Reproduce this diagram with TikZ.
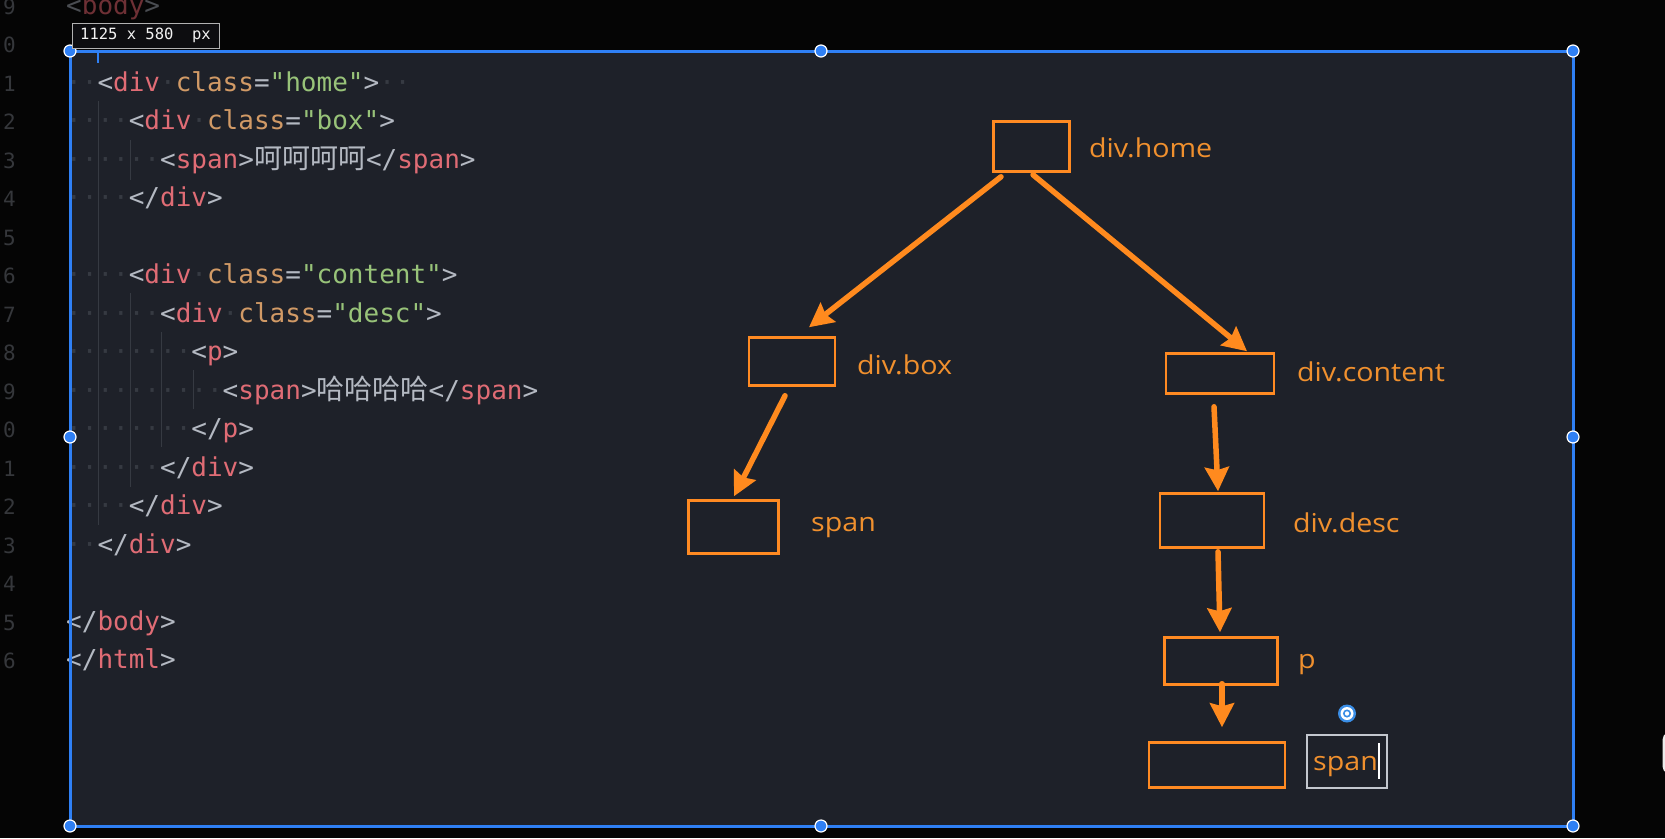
\documentclass[tikz,border=0pt]{standalone}
\usepackage{fontspec}
\setmonofont{DejaVu Sans Mono}
\newfontfamily\cjk{Noto Sans CJK SC}
\newfontfamily\lblfont[FakeStretch=1.1]{Open Sans}
\usetikzlibrary{arrows.meta}

\definecolor{bgblack}{HTML}{050505}
\definecolor{panel}{HTML}{1E2129}
\definecolor{frameblue}{HTML}{2F80F5}
\definecolor{codegray}{HTML}{B4B9C2}
\definecolor{codered}{HTML}{E06C75}
\definecolor{codeorange}{HTML}{D19A66}
\definecolor{codegreen}{HTML}{98C379}
\definecolor{wsgray}{HTML}{363A42}
\definecolor{lnumgray}{HTML}{35373B}
\definecolor{dimgray}{HTML}{4A4D52}
\definecolor{dimred}{HTML}{6E3035}
\definecolor{boxorange}{HTML}{FF8A22}
\definecolor{arrorange}{HTML}{FF8A1E}
\definecolor{lblorange}{HTML}{F0902E}
\definecolor{iconblue}{HTML}{3A8EE6}

\newcommand{\cpun}[1]{\textcolor{codegray}{#1}}
\newcommand{\ctag}[1]{\textcolor{codered}{#1}}
\newcommand{\cattr}[1]{\textcolor{codeorange}{#1}}
\newcommand{\cstr}[1]{\textcolor{codegreen}{#1}}
\newcommand{\cws}[1]{\textcolor{wsgray}{#1}}
\newcommand{\chz}[1]{{\cjk\fontsize{28}{30}\selectfont\textcolor{codegray}{#1}}}

\begin{document}
\begin{tikzpicture}[x=1pt, y=-1pt,
	code/.style={font=\ttfamily\fontsize{26}{30}\selectfont, anchor=base west, inner sep=0pt},
	lnum/.style={font=\ttfamily\fontsize{21}{24}\selectfont, text=lnumgray, anchor=base east, inner sep=0pt},
	tbox/.style={draw=boxorange, line width=2.5pt, inner sep=0pt},
	lbl/.style={font=\lblfont\fontsize{26}{30}\selectfont, text=lblorange, anchor=base west, inner sep=0pt},
	arr/.style={draw=arrorange, line width=5.5pt, line cap=round, -{Stealth[length=24pt,width=24pt,inset=3pt]}},
	guide/.style={draw=wsgray, line width=1pt},
	handle/.style={fill=frameblue, draw=white, line width=1.2pt}]
	\useasboundingbox (0,0) rectangle (1665,838);
	\fill[bgblack] (0,0) rectangle (1665,838);
	\fill[panel] (70,51) rectangle (1573,826);
	% line numbers
	\foreach \n [count=\i from 0] in {9,0,1,2,3,4,5,6,7,8,9,0,1,2,3,4,5,6}
		\node[lnum] (ln\i) at (16,14+\i*38.5) {\n};
	% code
	\node[code] (l9) at (66,14) {\textcolor{dimgray}{<}\textcolor{dimred}{body}\textcolor{dimgray}{>}};
	\draw[guide] (98.5,101) -- (98.5,525);
	\draw[guide] (130,140) -- (130,180);
	\draw[guide] (130,293) -- (130,487);
	\draw[guide] (161.5,332) -- (161.5,447);
	\draw[guide] (193,370) -- (193,409);
	\node[code] (l11) at (66,91) {\cws{··}\cpun{<}\ctag{div}\cws{·}\cattr{class}\cpun{=}\cstr{"home"}\cpun{>}\cws{··}};
	\node[code] (l12) at (66,129.5) {\cws{····}\cpun{<}\ctag{div}\cws{·}\cattr{class}\cpun{=}\cstr{"box"}\cpun{>}};
	\node[code] (l13) at (66,168) {\cws{······}\cpun{<}\ctag{span}\cpun{>}\chz{呵呵呵呵}\cpun{</}\ctag{span}\cpun{>}};
	\node[code] (l14) at (66,206.5) {\cws{····}\cpun{</}\ctag{div}\cpun{>}};
	\node[code] (l16) at (66,283.5) {\cws{····}\cpun{<}\ctag{div}\cws{·}\cattr{class}\cpun{=}\cstr{"content"}\cpun{>}};
	\node[code] (l17) at (66,322) {\cws{······}\cpun{<}\ctag{div}\cws{·}\cattr{class}\cpun{=}\cstr{"desc"}\cpun{>}};
	\node[code] (l18) at (66,360.5) {\cws{········}\cpun{<}\ctag{p}\cpun{>}};
	\node[code] (l19) at (66,399) {\cws{··········}\cpun{<}\ctag{span}\cpun{>}\chz{哈哈哈哈}\cpun{</}\ctag{span}\cpun{>}};
	\node[code] (l20) at (66,437.5) {\cws{········}\cpun{</}\ctag{p}\cpun{>}};
	\node[code] (l21) at (66,476) {\cws{······}\cpun{</}\ctag{div}\cpun{>}};
	\node[code] (l22) at (66,514.5) {\cws{····}\cpun{</}\ctag{div}\cpun{>}};
	\node[code] (l23) at (66,553) {\cws{··}\cpun{</}\ctag{div}\cpun{>}};
	\node[code] (l25) at (66,630) {\cpun{</}\ctag{body}\cpun{>}};
	\node[code] (l26) at (66,668.5) {\cpun{</}\ctag{html}\cpun{>}};
	% tree
	\node[tbox, minimum width=76pt, minimum height=50pt] (home) at (1031.5,146.5) {};
	\node[tbox, minimum width=86pt, minimum height=48pt] (box) at (792,361.5) {};
	\node[tbox, minimum width=108pt, minimum height=40pt] (content) at (1220,373.5) {};
	\node[tbox, minimum width=90pt, minimum height=53pt] (spanA) at (733.5,527) {};
	\node[tbox, minimum width=104pt, minimum height=54pt] (desc) at (1212,520.5) {};
	\node[tbox, minimum width=113pt, minimum height=47pt] (p) at (1221,661) {};
	\node[tbox, minimum width=136pt, minimum height=45pt] (spanB) at (1217,765) {};
	\node[lbl] (homelbl) at (1089,157) {div.home};
	\node[lbl] (boxlbl) at (857,374) {div.box};
	\node[lbl] (spanAlbl) at (811,531.5) {span};
	\node[lbl] (contentlbl) at (1297,381) {div.content};
	\node[lbl] (desclbl) at (1293,532) {div.desc};
	\node[lbl] (plbl) at (1298,668) {p};
	\node[draw=codegray!80, line width=1.5pt, minimum width=80pt, minimum height=53pt, inner sep=0pt] (spanBsel) at (1347,761.5) {};
	\node[lbl] (spanBlbl) at (1313,770) {span};
	\draw[white, line width=1.5pt] (1379,743) -- (1379,779);
	\draw[arr] ([xshift=-30.5pt,yshift=-4pt]home.south) -- ([xshift=17pt,yshift=9pt]box.north);
	\draw[arr] ([xshift=1.5pt,yshift=-2pt]home.south) -- ([xshift=27pt,yshift=1pt]content.north);
	\draw[arr] ([xshift=-7pt,yshift=-9pt]box.south) -- ([xshift=0.5pt,yshift=3pt]spanA.north);
	\draw[arr] ([xshift=-6pt,yshift=-12pt]content.south) -- ([xshift=6pt,yshift=1pt]desc.north);
	\draw[arr] ([xshift=6pt,yshift=-3pt]desc.south) -- ([xshift=-1pt,yshift=4pt]p.north);
	\draw[arr] ([xshift=1pt,yshift=2pt]p.south) -- ([xshift=5pt,yshift=14pt]spanB.north);
	% spiral icon
	\fill[iconblue] (1347,713.5) circle (9pt);
	\fill[white] (1347,713.5) circle (6.5pt);
	\draw[iconblue, line width=1.6pt] (1347,713.5) circle (3.2pt);
	% selection frame
	\draw[frameblue, line width=3pt] (70,51) rectangle (1573,826);
	\draw[frameblue, line width=2pt] (97.5,53) -- (97.5,63);
	\foreach \hx/\hy in {70/51,821/51,1573/51,70/437,1573/437,70/826,821/826,1573/826}
		\filldraw[handle] (\hx,\hy) circle (6pt);
	\node[fill=bgblack!70!panel, draw=gray!60, line width=1pt, minimum width=147pt, minimum height=25pt, inner sep=0pt, text=white!90!gray, font=\ttfamily\fontsize{15.5}{18}\selectfont] (dims) at (145.5,35.5) {1125 x 580\ \ px};
	\draw[white!85!gray, line width=3pt, rounded corners=4pt] (1672,731) -- (1664,736) -- (1664,770) -- (1672,775);
\end{tikzpicture}
\end{document}
